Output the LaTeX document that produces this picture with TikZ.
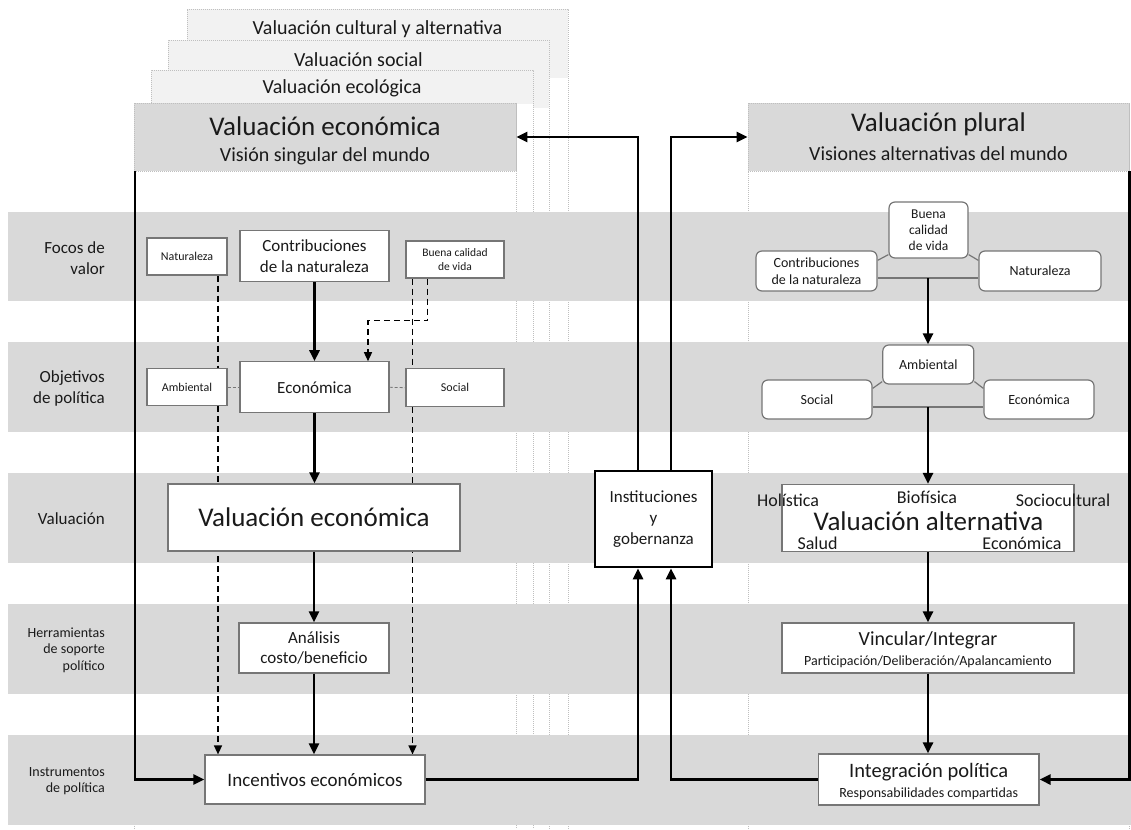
\documentclass[tikz,border=0pt]{standalone}
\usepackage{fontspec}
\setmainfont{Carlito}
\usetikzlibrary{arrows.meta,calc}
\definecolor{band}{HTML}{D9D9D9}
\definecolor{pale}{HTML}{F2F2F2}
\definecolor{edge}{HTML}{767676}
\definecolor{dotc}{HTML}{BFBFBF}
\definecolor{ink}{HTML}{1A1A1A}
\pgfdeclarelayer{bg}
\pgfdeclarelayer{under}
\pgfsetlayers{bg,under,main}
\newcommand{\fz}[2]{\fontsize{#1}{#2}\selectfont}
\tikzset{
  sq/.style={draw=edge, line width=1.2pt, fill=white, inner sep=0pt, align=center, text=ink},
  rd/.style={sq, rounded corners=6pt},
  flow/.style={line width=2.6pt, -{Triangle[length=11pt,width=10pt]}},
  dsh/.style={line width=1.4pt, dash pattern=on 6pt off 4pt},
  dsharr/.style={dsh, -{Triangle[length=9pt,width=8pt]}},
  tdash/.style={draw=edge, line width=0.8pt, dash pattern=on 3pt off 2pt},
  link/.style={draw=edge, line width=1.2pt},
  dotline/.style={draw=dotc, line width=0.8pt, dash pattern=on 1pt off 1pt},
  lbl/.style={anchor=east, align=right, text=ink, inner sep=0pt},
  txt/.style={text=ink, inner sep=0pt, align=center},
  hdr/.style={fill=band, draw=dotc, line width=0.8pt, dash pattern=on 1pt off 1pt, inner sep=0pt},
}
\begin{document}
\begin{tikzpicture}[x=1pt,y=-1pt]
\useasboundingbox (0,0) rectangle (1131,829);

% ---------- background: stacked valuation sheets and horizontal bands
\begin{pgfonlayer}{bg}
  \fill[white] (0,0) rectangle (1131,829);
  % cultural sheet
  \fill[white] (187,9) rectangle (568,829);
  \fill[pale] (187,9) rectangle (568,78);
  \draw[dotline] (187,829) -- (187,9) -- (568,9) -- (568,829);
  % social sheet
  \fill[white] (168,40) rectangle (549,829);
  \fill[pale] (168,40) rectangle (549,108);
  \draw[dotline] (168,829) -- (168,40) -- (549,40) -- (549,829);
  % ecological sheet
  \fill[white] (151,70) rectangle (533,829);
  \fill[pale] (151,70) rectangle (533,104);
  \draw[dotline] (151,829) -- (151,70) -- (533,70) -- (533,829);
  % economic sheet
  \fill[white] (134,103) rectangle (516,829);
  \draw[dotline] (134,829) -- (134,103) -- (516,103) -- (516,829);
  % plural sheet
  \draw[dotline] (748,829) -- (748,103) -- (1129,103) -- (1129,829);
  % bands
  \foreach \t/\b in {212/301,342/432,473/563,604/694,735/825}
    \fill[band] (8,\t) rectangle (1131,\b);
\end{pgfonlayer}

% ---------- sheet titles
\node[txt, font=\fz{20}{24}] (tCul) at (377.5,29) {Valuación cultural y alternativa};
\node[txt, font=\fz{20}{24}] (tSoc) at (358.5,60) {Valuación social};
\node[txt, font=\fz{20}{24}] (tEcol) at (342,88) {Valuación ecológica};

\node[hdr, minimum width=382pt, minimum height=68pt] (hdrEc) at (325,137) {};
\node[txt, font=\fz{27}{32}] (tEc) at (325,126) {Valuación económica};
\node[txt, font=\fz{20}{24}] (sEc) at (325,156) {Visión singular del mundo};

\node[hdr, minimum width=381pt, minimum height=68pt] (hdrPl) at (938.5,137) {};
\node[txt, font=\fz{27}{32}] (tPl) at (938.5,124) {Valuación plural};
\node[txt, font=\fz{20}{24}] (sPl) at (938.5,154) {Visiones alternativas del mundo};

% ---------- band labels
\node[lbl, font=\fz{17}{21}] (bl1) at (105,258.5) {Focos de\\valor};
\node[lbl, font=\fz{17}{21}] (bl2) at (105,388.5) {Objetivos\\de política};
\node[lbl, font=\fz{17}{21}] (bl3) at (105,519) {Valuación};
\node[lbl, font=\fz{14}{16.5}] (bl4) at (105,650) {Herramientas\\de soporte\\político};
\node[lbl, font=\fz{14}{16.5}] (bl5) at (105,781) {Instrumentos\\de política};

% ---------- singular (economic) column
\node[sq, minimum width=80pt, minimum height=37pt, font=\fz{12}{14}] (natL) at (187,256.5) {Naturaleza};
\node[sq, minimum width=149pt, minimum height=51pt, font=\fz{17}{20.5}] (conL) at (314.5,256.3) {Contribuciones\\de la naturaleza};
\node[sq, minimum width=98pt, minimum height=37pt, font=\fz{11.5}{13.5}] (bueL) at (455,259.5) {Buena calidad\\de vida};
\node[sq, minimum width=80pt, minimum height=37pt, font=\fz{12}{14}] (ambL) at (187,387.3) {Ambiental};
\node[sq, minimum width=149pt, minimum height=51pt, font=\fz{17}{20.5}] (ecoL) at (314.5,387.3) {Económica};
\node[sq, minimum width=98pt, minimum height=38pt, font=\fz{12}{14}] (socL) at (455,387.7) {Social};
\node[sq, minimum width=292pt, minimum height=67pt, font=\fz{27}{32}] (valE) at (314,517.5) {Valuación económica};
\node[sq, minimum width=150pt, minimum height=50pt, font=\fz{17}{20.5}] (anaL) at (314,648) {Análisis\\costo/beneficio};
\node[sq, minimum width=220pt, minimum height=49pt, font=\fz{19}{23}] (incL) at (315,779.5) {Incentivos económicos};

% ---------- institutions
\node[sq, draw=black, line width=2.6pt, minimum width=117pt, minimum height=96pt, font=\fz{17}{21}] (inst) at (653.5,519) {Instituciones\\y\\gobernanza};

% ---------- plural column
\node[rd, minimum width=79pt, minimum height=56pt, font=\fz{13.5}{16}] (bueR) at (928.5,230) {Buena\\calidad\\de vida};
\node[rd, minimum width=121pt, minimum height=40pt, font=\fz{14}{16.5}] (conR) at (816.5,271) {Contribuciones\\de la naturaleza};
\node[rd, minimum width=122pt, minimum height=40pt, font=\fz{14}{16.5}] (natR) at (1040,271) {Naturaleza};
\node[rd, minimum width=91pt, minimum height=39pt, font=\fz{14}{16.5}] (ambR) at (928.3,364.5) {Ambiental};
\node[rd, minimum width=110pt, minimum height=39pt, font=\fz{14}{16.5}] (socR) at (817,399.5) {Social};
\node[rd, minimum width=110pt, minimum height=39pt, font=\fz{14}{16.5}] (ecoR) at (1039,399.5) {Económica};

\node[sq, minimum width=292pt, minimum height=67pt] (valA) at (928,518) {};
\node[txt, font=\fz{27}{32}] (vaT) at (928.5,521) {Valuación alternativa};
\node[txt, font=\fz{18}{22}] (wHol) at (788,500) {Holística};
\node[txt, font=\fz{18}{22}] (wBio) at (927,497) {Biofísica};
\node[txt, font=\fz{18}{22}] (wSoc) at (1063,500) {Sociocultural};
\node[txt, font=\fz{18}{22}] (wSal) at (817.5,543) {Salud};
\node[txt, font=\fz{18}{22}] (wEco) at (1022,543) {Económica};

\node[sq, minimum width=292pt, minimum height=50pt] (vinc) at (928,648) {};
\node[txt, font=\fz{20}{24}] (vinT) at (928,640) {Vincular/Integrar};
\node[txt, font=\fz{14}{17}] (vinS) at (928,662) {Participación/Deliberación/Apalancamiento};

\node[sq, minimum width=220.5pt, minimum height=51pt] (integ) at (928.7,779.5) {};
\node[txt, font=\fz{20.5}{24}] (intT) at (928.7,772) {Integración política};
\node[txt, font=\fz{14}{17}] (intS) at (928.7,793.5) {Responsabilidades compartidas};

% ---------- connectors lying under the boxes
\begin{pgfonlayer}{under}
  % dashed links of the singular column
  \coordinate (d1) at ([xshift=31pt]natL.south);
  \draw[dsh] (d1) -- (d1 |- ambL.north);
  \coordinate (d2) at ([xshift=31pt]ambL.south);
  \draw[dsharr] (d2) -- (d2 |- incL.north);
  \draw[tdash] (ambL.east) -- (ecoL.west);
  \draw[tdash] (ecoL.east) -- (socL.west);
  \coordinate (d3) at ([xshift=-42.5pt]bueL.south);
  \draw[dsh] (d3) -- (d3 |- socL.north);
  \coordinate (d4) at ([xshift=-42.5pt]socL.south);
  \draw[dsharr] (d4) -- (d4 |- incL.north);
  \coordinate (d5) at ([xshift=-27.5pt]bueL.south);
  \coordinate (d6) at ([xshift=53.5pt]ecoL.north);
  \draw[dsharr] (d5) -- ++(0,42) -| (d6);
  % grey links of the plural column
  \draw[link] ([yshift=-10pt]conR.north east) -- ([yshift=4pt]bueR.south west);
  \draw[link] ([yshift=-10pt]natR.north west) -- ([yshift=4pt]bueR.south east);
  \draw[link] ([yshift=-7pt]conR.east) -- ([yshift=-7pt]natR.west);
  \draw[link] ([yshift=-9pt]socR.north east) -- ([yshift=3pt]ambR.south west);
  \draw[link] ([yshift=-9pt]ecoR.north west) -- ([yshift=3pt]ambR.south east);
  \draw[link] ([yshift=-7.5pt]socR.east) -- ([yshift=-7.5pt]ecoR.west);
\end{pgfonlayer}

% ---------- solid flow arrows, singular column
\draw[flow] (conL.south) -- (conL.south |- ecoL.north);
\draw[flow] (ecoL.south) -- (ecoL.south |- valE.north);
\draw[flow] (valE.south) -- (valE.south |- anaL.north);
\draw[flow] (anaL.south) -- (anaL.south |- incL.north);
\draw[flow] ([xshift=1.3pt]hdrEc.south west) |- (incL.west);

% ---------- feedback through institutions
\coordinate (iLb) at ([xshift=-15.5pt]inst.south);
\coordinate (iRb) at ([xshift=17.5pt]inst.south);
\coordinate (iLt) at ([xshift=-15.5pt]inst.north);
\coordinate (iRt) at ([xshift=17.5pt]inst.north);
\draw[flow] (incL.east) -| (iLb);
\draw[flow] (integ.west) -| (iRb);
\draw[flow] (iLt) |- (hdrEc.east);
\draw[flow] (iRt) |- (hdrPl.west);

% ---------- solid flow arrows, plural column
\coordinate (jTop) at ($([yshift=-7pt]conR.east)!0.5!([yshift=-7pt]natR.west)$);
\draw[flow] (jTop) -- (jTop |- ambR.north);
\coordinate (jMid) at ($([yshift=-7.5pt]socR.east)!0.5!([yshift=-7.5pt]ecoR.west)$);
\draw[flow] (jMid) -- (jMid |- valA.north);
\draw[flow] (valA.south) -- (valA.south |- vinc.north);
\draw[flow] (vinc.south) -- (vinc.south |- integ.north);
\draw[flow] (hdrPl.south east) |- (integ.east);
\end{tikzpicture}
\end{document}
